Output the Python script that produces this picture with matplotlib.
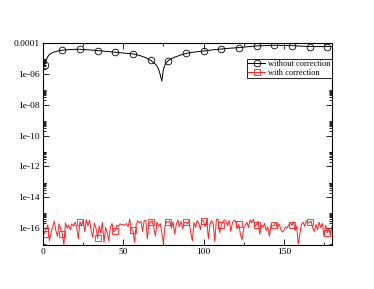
import numpy as np
import matplotlib
matplotlib.use("Agg")
import matplotlib.pyplot as plt
from matplotlib.ticker import FixedLocator, FixedFormatter

# ---- data ----
# black curve: "without correction" (x, value)
x_without = [0, 1, 2, 3, 4, 6, 8, 10, 12, 16, 20, 23, 28, 34, 40, 45, 50, 56, 60, 64, 67,
             70, 71, 72, 73, 74, 75, 76, 77, 78, 82, 86, 89, 94, 100, 105, 111, 116, 122,
             128, 133, 138, 144, 150, 155, 160, 166, 172, 177, 180]
log_without = [-5.55, -5.40, -5.08, -4.88, -4.75, -4.62, -4.55, -4.50, -4.47, -4.43, -4.41, -4.41,
               -4.44, -4.49, -4.55, -4.60, -4.65, -4.71, -4.80, -4.95, -5.12,
               -5.37, -5.50, -5.70, -6.05, -6.47, -5.70, -5.42, -5.26, -5.14, -4.92, -4.77,
               -4.68, -4.59, -4.52, -4.45, -4.39, -4.34, -4.30, -4.24, -4.19, -4.17, -4.15,
               -4.16, -4.17, -4.20, -4.23, -4.23, -4.23, -4.23]
y_without = [10.0 ** v for v in log_without]

# red curve: "with correction", x = 0..180, values in units of 1e-16
x_with = list(range(181))
with_e16 = [0.6, 0.43, 0.9, 1.6, 0.15, 0.5, 1.2, 2.8, 0.7, 0.3,
            1.9, 0.9, 0.43, 0.08, 2.2, 1.0, 1.6, 0.8, 1.9, 1.3,
            2.4, 1.1, 0.2, 2.6, 1.5, 3.2, 0.6, 3.6, 1.4, 3.3,
            0.7, 0.25, 2.1, 1.0, 0.22, 1.4, 0.5, 2.3, 0.12, 1.1,
            0.5, 0.15, 1.2, 2.0, 0.6, 0.67, 1.5, 1.3, 1.9, 1.6,
            1.7, 1.5, 2.0, 1.2, 3.8, 0.9, 0.78, 0.12, 1.6, 3.0,
            2.2, 2.7, 0.6, 2.9, 3.2, 0.2, 2.0, 2.6, 3.0, 1.1,
            0.3, 2.4, 1.3, 2.0, 0.5, 0.1, 1.4, 2.7, 2.4, 2.9,
            1.0, 2.5, 0.4, 1.7, 3.4, 1.2, 2.8, 0.9, 2.2, 2.6,
            1.8, 3.1, 0.5, 0.15, 2.3, 1.1, 3.0, 2.2, 0.8, 3.3,
            2.8, 1.2, 3.5, 0.2, 1.7, 3.1, 2.0, 0.13, 3.6, 3.9,
            0.5, 1.5, 2.7, 3.4, 2.9, 1.4, 3.1, 0.6, 2.3, 3.2,
            2.7, 0.9, 1.8, 0.35, 0.18, 1.0, 1.6, 2.4, 1.1, 3.4,
            2.2, 3.7, 1.3, 1.7, 2.8, 0.4, 1.5, 1.1, 2.0, 0.7,
            1.2, 0.3, 1.6, 1.4, 1.5, 2.3, 1.0, 1.9, 0.9, 0.55,
            0.7, 1.2, 1.0, 1.6, 2.1, 1.5, 2.6, 0.7, 1.3, 0.09,
            0.4, 1.8, 2.4, 1.3, 3.0, 2.1, 2.4, 2.8, 1.0, 0.6,
            1.7, 0.8, 2.4, 1.1, 2.0, 0.3, 1.5, 0.5, 0.9, 0.35,
            1.3]
y_with = [v * 1e-16 for v in with_e16]

marker_x = [1, 12, 23, 34, 45, 56, 67, 78, 89, 100, 111, 122, 133, 144, 155, 166, 177]

x_ticks = [0, 50, 100, 150]
x_tick_labels = ["0", "50", "100", "150"]
y_tick_exps = [-4, -6, -8, -10, -12, -14, -16]
y_tick_labels = ["0.0001", "1e-06", "1e-08", "1e-10", "1e-12", "1e-14", "1e-16"]

# ---- plot ----
plt.rcParams['font.family'] = ['Liberation Serif', 'DejaVu Serif']

fig = plt.figure(figsize=(3.74, 2.89), dpi=100)
ax = fig.add_axes([43/374, 1 - 245/289, (332 - 43)/374, (245 - 43)/289])

mw = [x_without.index(m) for m in marker_x if m in x_without]
mwith = [x_with.index(m) for m in marker_x]

ax.plot(x_without, y_without, color='black', lw=0.7, marker='o', markersize=4.8,
        markerfacecolor='none', markeredgewidth=0.6, markevery=mw, label='without correction')
ax.plot(x_with, y_with, color='#ff2020', lw=0.7, marker='s', markersize=4.4,
        markerfacecolor='none', markeredgewidth=0.6, markevery=mwith, label='with correction')

ax.set_yscale('log')
ax.set_xlim(0, 180)
ax.set_ylim(8e-18, 1e-4)

ax.xaxis.set_major_locator(FixedLocator(x_ticks))
ax.xaxis.set_major_formatter(FixedFormatter(x_tick_labels))
ax.xaxis.set_minor_locator(FixedLocator([25, 75, 125, 175]))

ax.yaxis.set_major_locator(FixedLocator([10.0 ** e for e in y_tick_exps]))
ax.yaxis.set_major_formatter(FixedFormatter(y_tick_labels))
minors = []
for k in range(-18, -3, 2):
    for m in range(2, 10):
        minors.append(m * 10.0 ** k)
ax.yaxis.set_minor_locator(FixedLocator(minors))
ax.yaxis.set_minor_formatter(FixedFormatter([]))

ax.tick_params(which='both', direction='in', top=True, right=True, labelsize=6.8,
               width=0.6, pad=2)
ax.tick_params(which='major', length=4)
ax.tick_params(which='minor', length=2)
for s in ax.spines.values():
    s.set_linewidth(0.8)

leg = ax.legend(loc='upper right', bbox_to_anchor=(1.0, 0.92), fontsize=6,
                frameon=True, fancybox=False, edgecolor='black', framealpha=1,
                borderpad=0.15, handlelength=2.0, handletextpad=0.4, labelspacing=0.05,
                borderaxespad=0.0)
leg.get_frame().set_linewidth(0.6)

fig.savefig('out.png', dpi=100)
